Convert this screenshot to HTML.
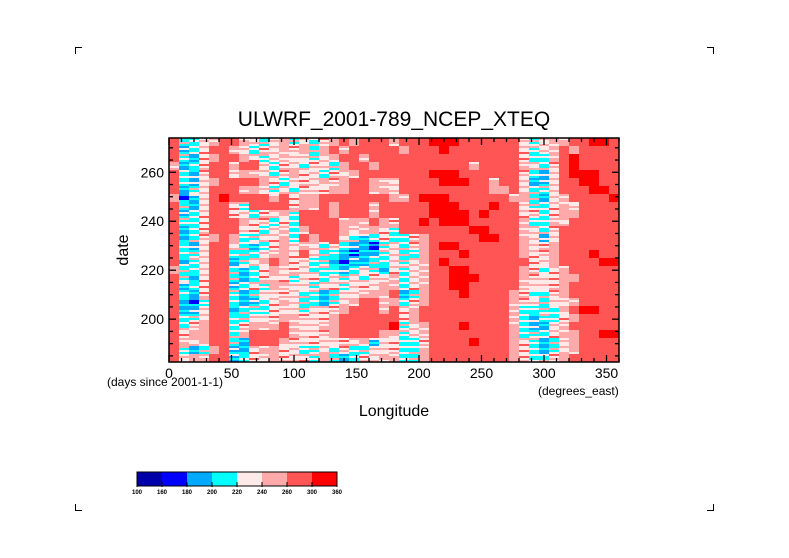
<!DOCTYPE html>
<html><head><meta charset="utf-8">
<style>
html,body{margin:0;padding:0;background:#fff;}
svg{display:block;font-family:"Liberation Sans",sans-serif;}
</style></head>
<body>
<svg id="chart" width="789" height="558" viewBox="0 0 789 558">
  <g stroke="#000" stroke-width="1" fill="none">
    <path d="M75.5,54 V47.5 H82"/><path d="M713.5,54 V47.5 H707"/>
    <path d="M75.5,504 V510.5 H82"/><path d="M713.5,504 V510.5 H707"/>
  </g>
  <text x="394" y="126" font-size="21" text-anchor="middle">ULWRF_2001-789_NCEP_XTEQ</text>
  <g id="heat" shape-rendering="crispEdges"></g>
  <g id="axes"></g>
  <text x="0" y="0" font-size="16" text-anchor="middle" transform="translate(128,250) rotate(-90)">date</text>
  <text x="107" y="386" font-size="12">(days since 2001-1-1)</text>
  <text x="538" y="395" font-size="12">(degrees_east)</text>
  <text x="394" y="416" font-size="16" text-anchor="middle">Longitude</text>
  <g id="cbar"></g>
</svg>
<script>
const colors = ["#0000aa","#0000ff","#00aaff","#00ffff","#ffeaea","#ffaaaa","#ff5555","#ff0000"];
const levelLabels = ["100","160","180","200","220","240","260","300","360"];
const xTicks = [0,50,100,150,200,250,300,350];
const yTicks = [200,220,240,260];
const lonMin = 0, lonMax = 360, dayMin = 182.5, dayMax = 274;
// level index grid: rows top (late days) to bottom, 45 cols of 8 degrees
const gridLeft = [
"63345665434534345656665","62346654344545356566666","63245665434544345665666","52346656643443443566566",
"63246645543454434456666","63245666654344454566554","62346665543434445566554","51246766665645566666665",
"63246643666645565666566","62346644344536665666566","63346665443436666555654","62346664434535666545543",
"62345653344536566432343","63246643234545434322134","63346633345546433212234","62346623456544332122334",
"53346632345444333234324","63246632344434434343445","62346623435544344344455","63246632344443323445556",
"62136632234543323456655","62246623334443444566656","63346633444554445666666","63456634555654455666667",
"64556635666654445666655","65456632666544444445244","63235622455443343433444","64556623445444353234455"];
const gridRight = [
"6667776666664345566776","5666766666664345656666","6666666666664335676666","6666666566665434676666",
"6667776666664324677766","6666777665664224667766","6666666665564334666776","5677766666655324566667",
"6667776667664334546666","6667777676664434556666","6676777666665335466666","6666666776665434666666",
"3456666677665424666666","3456776666665445666666","3356667666665445666766","3456766666666445666677",
"3456677666665434566666","3456677766665444556666","3456677666665444566666","2356667666654334566666",
"3456666666654434456666","4566666666653333567766","4566666666653233456666","3456667666653224566666",
"3456666666653334556677","3346666766654323456666","3356666666654323456666","3356666666654334566666"];

const NS="http://www.w3.org/2000/svg";
const L=169,R=619,T=138,B=362;
const xs = v => L + (v-lonMin)/(lonMax-lonMin)*(R-L);
const ys = d => B - (d-dayMin)/(dayMax-dayMin)*(B-T);
function mk(tag,attrs,parent){const e=document.createElementNS(NS,tag);for(const k in attrs)e.setAttribute(k,attrs[k]);parent.appendChild(e);return e;}

// streak texture offsets applied to sub-rows of each cell (rendering style only)
const streak=[0,0,1,0,0,2,0,1];
const heat=document.getElementById('heat');
const nRows=gridLeft.length;
const dayStep=(dayMax-dayMin)/nRows;
const nSub=4;
for(let r=0;r<nRows;r++){
  const row=gridLeft[r]+gridRight[r];
  const nCols=row.length, lonStep=(lonMax-lonMin)/nCols;
  const d1=dayMax-r*dayStep;
  for(let c=0;c<nCols;c++){
    const lv=+row[c];
    const x0=xs(c*lonStep), x1=xs((c+1)*lonStep);
    for(let j=0;j<nSub;j++){
      let l2=lv;
      const o=streak[(j+c*3+r)%streak.length];
      if(lv<=4){ l2=Math.min(6,lv+o); }
      else if(lv===5 && o===2){ l2=4; }
      const sd1=d1-j*dayStep/nSub, sd0=sd1-dayStep/nSub;
      const cell=mk('rect',{x:x0,y:ys(sd1),width:x1-x0+0.4,height:ys(sd0)-ys(sd1)+0.4,fill:colors[l2]},heat);
      
      
    }
  }
}

const axes=document.getElementById('axes');
const frame=mk('rect',{x:L,y:T,width:R-L,height:B-T,fill:'none',stroke:'#000','stroke-width':1.5},axes);


for(let v=0;v<=360;v+=10){
  const len=(v%50===0)?7:4, x=xs(v);
  mk('line',{x1:x,y1:B,x2:x,y2:B-len,stroke:'#000','stroke-width':1.3},axes);
  mk('line',{x1:x,y1:T,x2:x,y2:T+len,stroke:'#000','stroke-width':1.3},axes);
}
for(let d=185;d<=270;d+=5){
  const len=(d%20===0)?7:4, y=ys(d);
  mk('line',{x1:L,y1:y,x2:L+len,y2:y,stroke:'#000','stroke-width':1.3},axes);
  mk('line',{x1:R,y1:y,x2:R-len,y2:y,stroke:'#000','stroke-width':1.3},axes);
}
xTicks.forEach(v=>{
  const t=mk('text',{x:xs(v),y:B+16,'font-size':14,'text-anchor':'middle'},axes);
  t.textContent=v;
  
  
});
yTicks.forEach(d=>{
  const t=mk('text',{x:L-5,y:ys(d)+5,'font-size':14,'text-anchor':'end'},axes);
  t.textContent=d;
  
  
});

const cbar=document.getElementById('cbar');
const cx0=137,cw=25,cy=472,ch=14;
colors.forEach((col,i)=>{
  const s=mk('rect',{x:cx0+i*cw,y:cy,width:cw,height:ch,fill:col},cbar);
  
  
});
mk('rect',{x:cx0,y:cy,width:cw*colors.length,height:ch,fill:'none',stroke:'#000','stroke-width':1},cbar);
levelLabels.forEach((lab,i)=>{
  const x=cx0+i*cw;
  mk('line',{x1:x,y1:cy+ch-4,x2:x,y2:cy+ch+1,stroke:'#000','stroke-width':1},cbar);
  const t=mk('text',{x:x,y:cy+ch+8,'font-size':6,'text-anchor':'middle','font-weight':'bold'},cbar);
  t.textContent=lab;
  
  
});
</script>
</body></html>
